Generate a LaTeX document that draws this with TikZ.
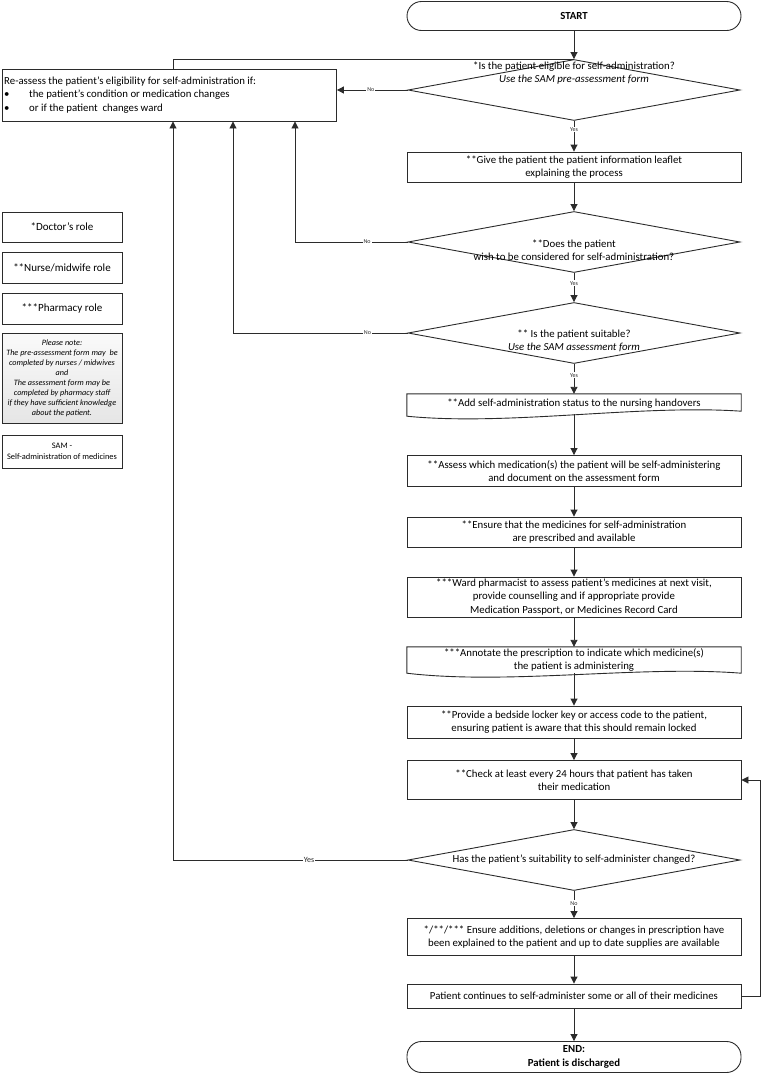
\documentclass[tikz,border=0pt]{standalone}
\usepackage{fontspec}
\setmainfont{Carlito}
\usetikzlibrary{arrows.meta,shapes.geometric,calc}
\definecolor{lc}{HTML}{2B2B2B}
\tikzset{
  base/.style={line width=0.9pt, draw=lc},
  box/.style={base, minimum width=334pt, align=center, inner sep=0pt},
  term/.style={box, rounded corners=14.5pt, font=\fontsize{10.8}{13.5}\selectfont\bfseries},
  dia/.style={base, shape=diamond, minimum width=332pt, minimum height=61pt, inner sep=0pt},
  dtext/.style={align=center, inner sep=0pt},
  doc/.style={minimum width=334pt, align=center, inner sep=0pt},
  arr/.style={base, -{Triangle[length=7pt,width=7pt]}},
  ln/.style={base},
  lbl/.style={fill=white, font=\fontsize{6}{7}\selectfont, inner sep=1pt, text=lc},
  legend/.style={base, minimum width=120pt, align=center, inner sep=0pt, font=\fontsize{11}{13}\selectfont},
}
\begin{document}
\begin{tikzpicture}[x=1pt,y=-1pt, font=\fontsize{10.8}{13.5}\selectfont]
\useasboundingbox (0,0) rectangle (762,1074);
% main column
\node[term, minimum height=29pt] (start) at (574,16) {START};
\node[dia] (d1) at (574,90) {};
\node[dtext] (d1t) at (574,73) {*Is the patient eligible for self-administration?\\ \textit{Use the SAM pre-assessment form}};
\node[box, minimum height=30pt] (b2) at (574,167) {**Give the patient the patient information leaflet\\ explaining the process};
\node[dia] (d2) at (574,242) {};
\node[dtext] (d2t) at (574,250) {**Does the patient\\ wish to be considered for self-administration?};
\node[dia] (d3) at (574,333) {};
\node[dtext] (d3t) at (574,341) {** Is the patient suitable?\\ \textit{Use the SAM assessment form}};
\node[doc, minimum height=20pt] (b4) at (574,404) {**Add self-administration status to the nursing handovers};
\draw[base] (b4.north west) -- (b4.north east) -- ($(b4.south east)+(0,-3)$)
  .. controls ($(b4.south)+(66,-10)$) and ($(b4.south)+(-66,12)$) .. ($(b4.south west)+(0,2)$) -- cycle;
\node[box, minimum height=31pt] (b5) at (574,471) {**Assess which medication(s) the patient will be self-administering\\ and document on the assessment form};
\node[box, minimum height=30pt] (b6) at (574,532) {**Ensure that the medicines for self-administration\\ are prescribed and available};
\node[box, minimum height=40pt] (b7) at (574,597) {***Ward pharmacist to assess patient’s medicines at next visit,\\ provide counselling and if appropriate provide\\ Medication Passport, or Medicines Record Card};
\node[doc, minimum height=26pt] (b8) at (574,660) {***Annotate the prescription to indicate which medicine(s)\\ the patient is administering};
\draw[base] (b8.north west) -- (b8.north east) -- ($(b8.south east)+(0,0)$)
  .. controls ($(b8.south)+(66,-8)$) and ($(b8.south)+(-66,12)$) .. ($(b8.south west)+(0,0)$) -- cycle;
\node[box, minimum height=32pt] (b9) at (574,722) {**Provide a bedside locker key or access code to the patient,\\ ensuring patient is aware that this should remain locked};
\node[box, minimum height=39pt] (b10) at (574,780) {**Check at least every 24 hours that patient has taken\\ their medication};
\node[dia] (d4) at (574,860) {};
\node[dtext] (d4t) at (574,860) {Has the patient’s suitability to self-administer changed?};
\node[box, minimum height=37pt] (b11) at (574,937) {*/**/*** Ensure additions, deletions or changes in prescription have\\ been explained to the patient and up to date supplies are available};
\node[box, minimum height=24pt] (b12) at (574,996) {Patient continues to self-administer some or all of their medicines};
\node[term, minimum height=31pt] (end) at (574,1057) {END:\\ Patient is discharged};
% left column
\node[base, minimum width=334pt, minimum height=52pt, inner sep=2pt, anchor=west] (re) at (2,95) {};
\node[align=left, anchor=west, inner sep=0pt] (ret) at (4,95) {Re-assess the patient’s eligibility for self-administration if:\\
\makebox[25pt][l]{•}the patient’s condition or medication changes\\
\makebox[25pt][l]{•}or if the patient\ \ changes ward};
\node[legend, minimum height=30pt] (l1) at (62,227) {*Doctor’s role};
\node[legend, minimum height=31pt] (l2) at (62,267.5) {**Nurse/midwife role};
\node[legend, minimum height=31pt] (l3) at (62,308.5) {***Pharmacy role};
\node[legend, minimum height=90pt, top color=gray!4, bottom color=gray!20, font=\fontsize{8.2}{10}\selectfont\itshape] (l4) at (62,378)
 {Please note:\\ The pre-assessment form may\ \ be\\ completed by nurses / midwives\\ and\\ The assessment form may be\\ completed by pharmacy staff\\ if they have sufficient knowledge\\ about the patient.};
\node[legend, minimum height=33pt, font=\fontsize{8.4}{11}\selectfont] (l5) at (62,451.5) {SAM -\\ Self-administration of medicines};
% coordinates for loops
\coordinate (x1) at (173,0);
\coordinate (x2) at (233,0);
\coordinate (x3) at (295,0);
\coordinate (xr) at (760,0);
% main arrows
\draw[arr] (start) -- (d1.north);
\draw[arr] (d1.south) -- node[lbl, pos=0.28] {Yes} (b2.north);
\draw[arr] (b2) -- (d2.north);
\draw[arr] (d2.south) -- node[lbl, pos=0.36] {Yes} (d3.north);
\draw[arr] (d3.south) -- node[lbl, pos=0.38] {Yes} (b4.north);
\draw[arr] (b4.south) -- (b5.north);
\draw[arr] (b5) -- (b6);
\draw[arr] (b6) -- (b7);
\draw[arr] (b7) -- (b8.north);
\draw[arr] (b8.south) -- (b9);
\draw[arr] (b9) -- (b10);
\draw[arr] (b10) -- (d4.north);
\draw[arr] (d4.south) -- node[lbl, pos=0.45] {No} (b11.north);
\draw[arr] (b11) -- (b12);
\draw[arr] (b12) -- (end);
% feedback
\draw[arr] (b12.east) -- (b12.east -| xr) |- (b10.east);
\draw[arr] (d1.west) -- node[lbl, pos=0.52] {No} (re.east |- d1.west);
\draw[ln] (x1 |- re.north) |- (d1.north);
\draw[arr] (d2.west) -| node[lbl, pos=0.18] {No} (x3 |- re.south);
\draw[arr] (d3.west) -| node[lbl, pos=0.115] {No} (x2 |- re.south);
\draw[arr] (d4.west) -| node[lbl, pos=0.21, font=\fontsize{8}{9}\selectfont] {Yes} (x1 |- re.south);
\end{tikzpicture}
\end{document}
